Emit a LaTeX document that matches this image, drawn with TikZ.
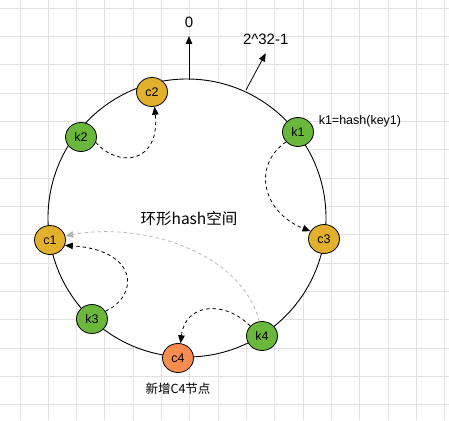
\documentclass[tikz,border=0pt]{standalone}
\usepackage{fontspec}
\setmainfont{Liberation Sans}
\newfontfamily\cjk{Noto Sans CJK SC}
\usetikzlibrary{arrows.meta,shapes.geometric,positioning}
\definecolor{hashgreen}{HTML}{6AB83B}
\definecolor{hashyellow}{HTML}{E2B02D}
\definecolor{hashorange}{HTML}{F98C4E}
\definecolor{gridgray}{HTML}{E2E2E2}
\definecolor{movegray}{HTML}{B8B8B8}

\begin{document}
\begin{tikzpicture}[x=1pt,y=-1pt,
            every node/.style={black},
            hnode/.style={ellipse,draw=black,line width=0.8pt,minimum width=31pt,minimum height=29pt,inner sep=0pt,font=\fontsize{12.5}{14}\selectfont},
            knode/.style={hnode,fill=hashgreen},
            cnode/.style={hnode,fill=hashyellow},
            tip/.style={-{Triangle[length=8pt,width=6.5pt]},line width=0.8pt},
            move/.style={tip,dash pattern=on 3.5pt off 3pt}
        ]
            \useasboundingbox (0,0) rectangle (449,420);
            \fill [white] (0,0) rectangle (449,420);
            \foreach \i in {0,...,15}
                \draw [gridgray,line width=1pt] ({20+28.33*\i},0) -- ({20+28.33*\i},420);
            \foreach \i in {0,...,14}
                \draw [gridgray,line width=1pt] (0,{8.33+28.33*\i}) -- (449,{8.33+28.33*\i});

            % hash ring
            \draw [fill=white,line width=0.9pt] (187,218) circle[radius=139];
            \node [font=\fontsize{15.5}{18}\selectfont\cjk] (ringlbl) at (189,219) {环形hash空间};

            \coordinate (ring0) at (189,80);
            \coordinate (zerotip) at (189,36);
            \coordinate (ringmax) at (246,90);
            \coordinate (maxtip) at (265.7,53.3);
            \draw [tip] (ring0) -- (zerotip);
            \draw [tip] (ringmax) -- (maxtip);
            \node [font=\fontsize{15}{18}\selectfont,inner sep=2pt,above=6pt of zerotip] (zerolbl) {0};
            \node [font=\fontsize{15}{18}\selectfont,inner sep=2pt,above=6pt of maxtip] (maxlbl) {2\char94 32-1};

            % servers and keys
            \node [cnode] (c1) at (50,240) {c1};
            \node [cnode] (c2) at (152,92) {c2};
            \node [cnode] (c3) at (324,239) {c3};
            \node [hnode,fill=hashorange] (c4) at (178,358) {c4};
            \node [knode] (k1) at (298,132) {k1};
            \node [knode] (k2) at (81,137) {k2};
            \node [knode] (k3) at (92,319) {k3};
            \node [knode] (k4) at (262,336) {k4};

            \node [font=\fontsize{12.5}{14}\selectfont,right=6pt of k1.north east] (k1lbl) {k1=hash(key1)};
            \node [font=\fontsize{12.5}{14}\selectfont\cjk,below=7pt of c4] (c4lbl) {新增C4节点};

            % keys walk clockwise to the next server
            \draw [move] (k2.-20) .. controls (118,168) and (160,164) .. (c2.-80);
            \draw [move] (k1.220) .. controls (252,165) and (262,212) .. (c3.150);
            \draw [move] (k3.30) .. controls (140,295) and (138,250) .. (c1.-20);
            \draw [move] (k4.140) .. controls (225,300) and (185,303) .. (c4.80);
            \draw [move,movegray] (k4.100) .. controls (240,250) and (140,222) .. (c1.15);
        \end{tikzpicture}
\end{document}
